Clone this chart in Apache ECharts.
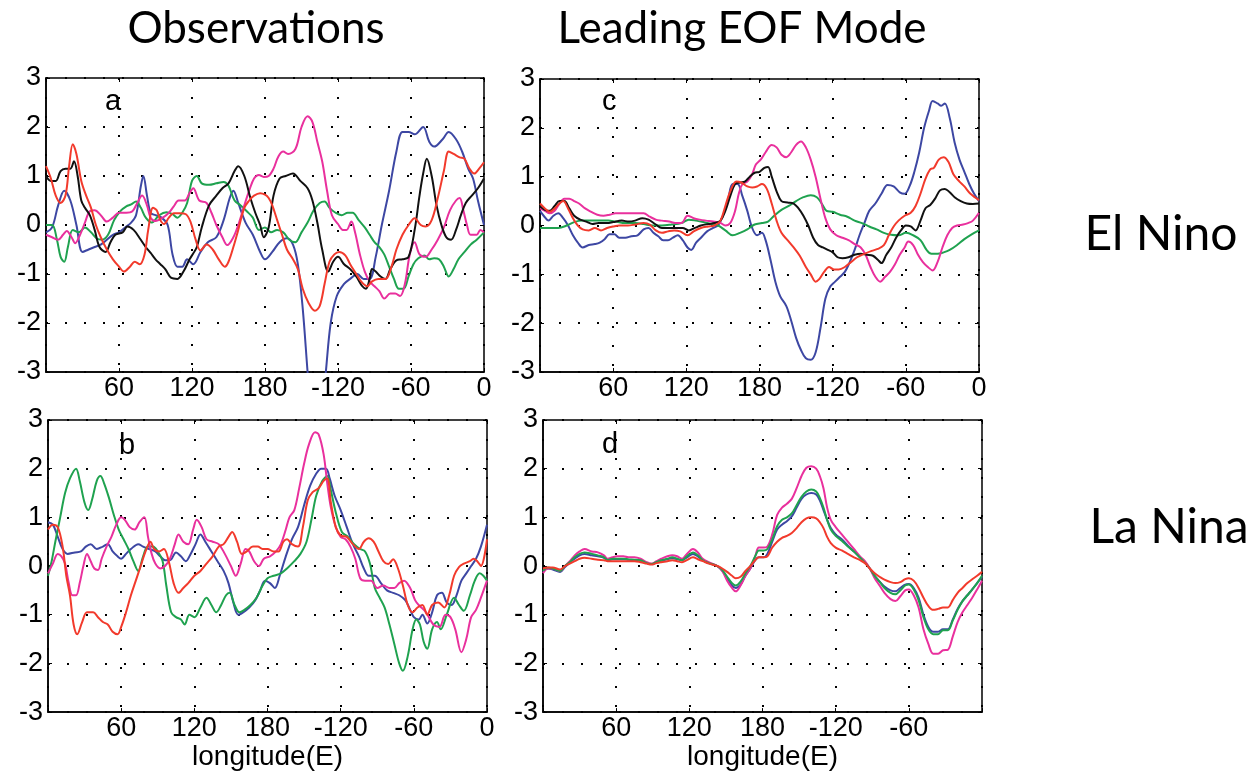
<!DOCTYPE html>
<html>
<head>
<meta charset="utf-8">
<script src="https://cdn.jsdelivr.net/npm/echarts/dist/echarts.min.js"></script>
<style>
html,body{margin:0;padding:0;background:#fff;}
#chart{width:1258px;height:772px;}
</style>
</head>
<body>
<div id="chart"></div>
<script>
// ---- tick values / labels ----
const lonTicks = [0, 60, 120, 180, 240, 300, 360];
const lonLabels = ['', '60', '120', '180', '-120', '-60', '0'];
const lonLabelsD = ['', '60', '120', '180', '-120', '-60', ''];
const valTicks = [-3, -2, -1, 0, 1, 2, 3];

// ---- panel a: Observations, El Nino ([longitude, value]) ----
const obsElBlue = [[0,-0.15],[5,-0.05],[10,0.4],[15,0.7],[20,0.5],[25,0.0],[30,-0.55],[35,-0.5],[40,-0.45],[45,-0.4],[50,-0.3],[55,-0.2],[60,-0.15],[65,-0.05],[70,0.05],[74,0.2],[78,0.8],[80,1.0],[83,0.6],[86,0.25],[90,0.2],[95,0.15],[100,0.0],[104,-0.6],[108,-0.85],[112,-0.85],[116,-0.7],[121,-0.8],[127,-0.55],[133,-0.35],[140,-0.25],[146,0.1],[151,0.55],[154,0.7],[158,0.45],[164,0.05],[170,-0.2],[176,-0.55],[180,-0.7],[186,-0.55],[192,-0.35],[198,-0.27],[203,-0.4],[207,-0.8],[211,-1.7],[215,-3.0],[218,-3.9],[222,-4.3],[226,-4.0],[230,-3.0],[234,-2.0],[239,-1.45],[245,-1.2],[250,-1.1],[256,-1.0],[261,-1.1],[266,-1.1],[271,-0.65],[276,0.0],[282,0.7],[288,1.5],[293,1.9],[298,1.9],[303,1.85],[310,2.0],[315,1.7],[319,1.6],[326,1.75],[331,1.9],[337,1.75],[342,1.5],[347,1.15],[351,0.95],[355,0.5],[360,0.0]];
const obsElRed = [[0,1.2],[4,0.95],[8,0.6],[12,0.45],[16,0.6],[19,1.2],[22,1.65],[25,1.45],[29,0.9],[33,0.6],[37,0.35],[41,0.0],[45,-0.25],[50,-0.5],[55,-0.7],[60,-0.85],[64,-0.95],[69,-0.85],[73,-0.75],[77,-0.8],[81,-0.6],[84,-0.1],[88,0.35],[91,0.3],[94,0.1],[97,0.02],[101,0.15],[105,0.24],[110,0.24],[115,0.22],[119,0.05],[123,-0.3],[127,-0.52],[132,-0.4],[137,-0.5],[142,-0.7],[147,-0.85],[150,-0.75],[154,-0.45],[158,-0.1],[163,0.35],[167,0.5],[171,0.6],[176,0.65],[180,0.62],[183,0.55],[186,0.4],[190,0.1],[194,-0.2],[198,-0.5],[203,-0.7],[207,-0.9],[211,-1.3],[216,-1.6],[221,-1.75],[225,-1.65],[229,-1.2],[233,-0.75],[237,-0.6],[241,-0.55],[246,-0.62],[250,-0.8],[255,-1.0],[259,-1.15],[264,-1.25],[268,-1.15],[273,-1.1],[279,-1.1],[284,-0.85],[288,-0.5],[293,-0.2],[298,0.0],[303,0.14],[308,0.0],[312,-0.03],[317,0.1],[322,0.55],[327,1.1],[331,1.5],[335,1.45],[340,1.38],[344,1.35],[348,1.15],[352,1.05],[356,1.15],[360,1.28]];
const obsElBlack = [[0,1.0],[4,0.9],[8,0.9],[12,1.1],[16,1.15],[20,1.15],[23,1.3],[26,1.0],[29,0.5],[32,0.35],[36,0.2],[40,-0.1],[44,-0.45],[49,-0.55],[53,-0.35],[57,-0.2],[63,-0.15],[67,-0.03],[72,-0.1],[77,-0.27],[82,-0.45],[86,-0.57],[90,-0.7],[94,-0.8],[98,-0.9],[103,-1.08],[108,-1.1],[113,-0.95],[118,-0.7],[121,-0.58],[124,-0.45],[128,-0.05],[134,0.4],[140,0.6],[145,0.75],[150,0.85],[155,1.1],[158,1.2],[163,1.0],[168,0.55],[172,0.25],[176,0.0],[179,-0.25],[183,-0.05],[187,0.6],[192,0.95],[197,1.0],[203,1.05],[209,0.9],[215,0.75],[219,0.5],[223,0.05],[227,-0.5],[232,-0.95],[236,-0.75],[240,-0.65],[245,-0.8],[250,-0.9],[255,-1.05],[260,-1.25],[263,-1.3],[266,-1.1],[268,-0.9],[271,-0.95],[275,-1.05],[279,-1.1],[283,-0.9],[288,-0.72],[293,-0.7],[298,-0.65],[303,-0.1],[307,0.6],[310,1.05],[313,1.35],[317,1.0],[321,0.4],[325,0.0],[329,-0.25],[333,-0.3],[337,-0.1],[341,0.2],[345,0.45],[350,0.6],[355,0.75],[360,0.95]];
const obsElGreen = [[0,0.0],[5,0.0],[9,-0.3],[12,-0.65],[15,-0.75],[18,-0.45],[22,-0.1],[27,-0.15],[32,-0.05],[37,-0.15],[42,-0.28],[46,-0.3],[51,-0.2],[56,0.1],[61,0.28],[66,0.38],[70,0.42],[74,0.48],[78,0.35],[82,0.15],[87,0.05],[93,0.2],[99,0.26],[104,0.22],[108,0.15],[112,0.25],[116,0.45],[120,0.9],[124,1.0],[128,0.85],[134,0.82],[140,0.85],[146,0.88],[150,0.8],[155,0.5],[160,0.4],[165,0.28],[170,0.15],[175,-0.1],[180,-0.05],[185,-0.15],[190,-0.1],[195,-0.15],[200,-0.3],[205,-0.35],[210,-0.15],[215,0.05],[220,0.3],[225,0.45],[229,0.48],[233,0.35],[238,0.25],[243,0.2],[248,0.25],[252,0.25],[257,0.1],[262,-0.05],[266,-0.2],[270,-0.35],[274,-0.45],[278,-0.6],[282,-0.85],[286,-1.1],[290,-1.3],[294,-1.3],[298,-1.05],[302,-0.8],[306,-0.68],[311,-0.62],[315,-0.7],[319,-0.68],[323,-0.7],[327,-0.85],[331,-1.05],[335,-0.9],[339,-0.7],[344,-0.55],[349,-0.4],[354,-0.3],[360,-0.15]];
const obsElMagenta = [[0,-0.2],[5,-0.25],[10,-0.3],[14,-0.2],[17,-0.12],[21,-0.25],[24,-0.37],[28,-0.2],[32,0.05],[36,0.28],[40,0.3],[45,0.2],[50,0.07],[55,0.15],[60,0.25],[66,0.25],[71,0.28],[75,0.45],[79,0.6],[83,0.4],[86,0.15],[90,0.08],[96,0.15],[101,0.25],[105,0.38],[109,0.5],[114,0.5],[118,0.65],[121,0.75],[126,0.5],[132,0.45],[136,0.25],[140,0.0],[145,-0.25],[149,-0.41],[154,-0.25],[158,0.0],[163,0.4],[167,0.7],[171,0.95],[175,1.02],[179,0.98],[183,1.0],[187,1.15],[191,1.4],[195,1.5],[199,1.45],[205,1.55],[210,2.0],[215,2.22],[219,2.1],[223,1.7],[227,1.3],[231,0.7],[235,0.2],[240,0.02],[244,-0.1],[247,-0.1],[251,0.07],[254,-0.15],[258,-0.6],[262,-0.95],[266,-1.15],[270,-1.25],[274,-1.35],[278,-1.5],[283,-1.4],[287,-1.4],[291,-1.45],[295,-1.2],[299,-0.6],[303,-0.35],[307,-0.6],[312,-0.65],[317,-0.5],[322,-0.3],[327,-0.05],[332,0.3],[337,0.5],[340,0.55],[343,0.3],[346,0.0],[349,-0.2],[354,-0.2],[357,-0.1],[360,-0.15]];

// ---- panel b: Observations, La Nina ----
const obsLaBlue = [[0,0.9],[4,0.85],[8,0.6],[12,0.35],[16,0.25],[22,0.28],[27,0.3],[31,0.4],[35,0.45],[40,0.35],[45,0.4],[49,0.45],[53,0.3],[57,0.2],[60,0.15],[64,0.25],[68,0.35],[74,0.45],[78,0.4],[83,0.35],[88,0.3],[92,0.2],[96,0.12],[100,0.12],[105,0.28],[109,0.2],[113,0.1],[117,0.25],[121,0.45],[125,0.65],[129,0.5],[134,0.3],[139,0.1],[144,-0.1],[148,-0.35],[152,-0.75],[156,-1.0],[160,-0.95],[165,-0.85],[170,-0.7],[174,-0.5],[178,-0.3],[182,-0.35],[186,-0.45],[190,-0.2],[195,0.2],[200,0.55],[205,0.8],[210,1.25],[215,1.65],[220,1.9],[224,2.0],[228,2.0],[231,1.8],[235,1.45],[240,1.15],[245,0.8],[250,0.45],[255,0.2],[259,-0.05],[263,-0.2],[268,-0.2],[273,-0.35],[278,-0.5],[283,-0.55],[288,-0.6],[293,-0.7],[297,-0.9],[300,-1.05],[304,-1.1],[307,-1.0],[311,-1.18],[315,-0.95],[319,-0.6],[323,-0.55],[327,-0.75],[331,-0.8],[335,-0.6],[339,-0.3],[343,-0.15],[347,0.0],[351,0.15],[355,0.4],[360,0.85]];
const obsLaRed = [[0,0.75],[4,0.85],[8,0.8],[12,0.4],[15,-0.2],[18,-0.6],[21,-1.2],[24,-1.4],[28,-1.15],[32,-0.95],[37,-0.95],[41,-1.05],[45,-1.15],[49,-1.2],[53,-1.35],[57,-1.4],[60,-1.25],[64,-0.95],[68,-0.6],[72,-0.3],[76,0.0],[80,0.3],[84,0.5],[87,0.35],[91,0.3],[95,0.35],[99,0.1],[103,-0.35],[107,-0.55],[111,-0.45],[115,-0.35],[120,-0.2],[125,-0.1],[130,0.05],[135,0.2],[140,0.4],[144,0.45],[148,0.6],[151,0.7],[155,0.5],[159,0.25],[163,0.3],[168,0.4],[172,0.4],[176,0.35],[180,0.35],[185,0.3],[189,0.3],[193,0.5],[196,0.55],[200,0.45],[205,0.4],[209,0.8],[213,1.35],[217,1.52],[222,1.6],[226,1.75],[229,1.8],[232,1.3],[236,0.8],[240,0.63],[245,0.6],[250,0.45],[255,0.35],[259,0.5],[263,0.57],[267,0.5],[271,0.3],[275,0.1],[279,0.04],[283,0.14],[287,-0.05],[291,-0.4],[295,-0.8],[299,-0.95],[303,-0.85],[307,-0.8],[311,-1.0],[315,-0.8],[320,-0.75],[325,-0.85],[329,-0.6],[333,-0.2],[337,-0.02],[341,0.05],[346,0.1],[349,0.15],[352,0.1],[355,0.0],[360,0.55]];
const obsLaGreen = [[0,-0.2],[3,0.1],[6,0.5],[10,1.0],[14,1.5],[18,1.8],[23,2.0],[26,1.75],[30,1.3],[33,1.15],[36,1.35],[40,1.75],[43,1.85],[46,1.7],[50,1.4],[54,1.05],[58,0.75],[62,0.55],[66,0.35],[70,0.1],[74,-0.1],[78,0.2],[82,0.4],[86,0.4],[90,0.3],[94,0.1],[97,-0.4],[101,-0.95],[105,-1.05],[109,-1.1],[112,-1.2],[116,-1.0],[120,-1.05],[125,-0.85],[130,-0.65],[134,-0.8],[138,-0.95],[142,-0.8],[146,-0.6],[149,-0.55],[153,-0.8],[157,-0.95],[161,-0.9],[166,-0.8],[171,-0.65],[176,-0.4],[180,-0.25],[185,-0.2],[191,-0.15],[196,-0.05],[202,0.1],[207,0.25],[212,0.5],[216,0.95],[220,1.45],[225,1.75],[229,1.85],[232,1.55],[236,1.1],[241,0.7],[246,0.6],[251,0.45],[256,0.35],[260,0.3],[264,0.05],[268,-0.45],[272,-0.65],[276,-0.85],[280,-1.2],[284,-1.6],[288,-2.0],[291,-2.15],[295,-1.85],[299,-1.3],[302,-1.1],[305,-1.2],[308,-1.55],[311,-1.7],[315,-1.3],[319,-1.15],[322,-1.3],[327,-1.0],[333,-0.65],[337,-0.8],[341,-0.92],[346,-0.6],[350,-0.3],[354,-0.15],[357,-0.2],[360,-0.3]];
const obsLaMagenta = [[0,-0.15],[4,0.05],[8,0.25],[11,0.2],[14,0.05],[17,-0.35],[20,-0.6],[23,-0.6],[26,-0.35],[29,0.0],[32,0.25],[35,0.1],[38,-0.05],[41,-0.08],[44,0.15],[48,0.4],[52,0.6],[56,0.85],[60,1.0],[63,0.95],[67,0.8],[71,0.75],[75,0.9],[79,1.0],[82,0.6],[85,0.25],[88,0.05],[92,-0.05],[96,0.0],[100,0.15],[104,0.45],[107,0.65],[111,0.5],[115,0.45],[119,0.75],[122,0.95],[126,0.8],[130,0.55],[135,0.5],[140,0.45],[145,0.25],[150,0.0],[154,-0.2],[158,0.05],[162,0.35],[165,0.3],[169,0.1],[173,0.0],[177,0.15],[182,0.2],[187,0.3],[191,0.45],[195,0.75],[198,1.0],[202,1.15],[206,1.6],[210,2.1],[214,2.5],[219,2.75],[222,2.7],[226,2.3],[229,1.7],[232,1.2],[236,0.8],[240,0.6],[244,0.55],[248,0.4],[252,0.15],[256,-0.25],[260,-0.3],[265,-0.3],[270,-0.45],[275,-0.4],[280,-0.45],[284,-0.45],[288,-0.35],[292,-0.3],[297,-0.45],[301,-0.7],[304,-0.8],[310,-0.95],[316,-1.2],[321,-1.25],[326,-1.0],[330,-1.05],[334,-1.3],[339,-1.77],[343,-1.5],[347,-1.05],[351,-0.9],[355,-0.65],[360,-0.3]];

// ---- panel c: Leading EOF mode, El Nino ----
const eofElBlue = [[0,0.3],[3,0.2],[7,0.1],[11,0.2],[15,0.25],[19,0.15],[23,0.0],[27,-0.2],[31,-0.35],[35,-0.45],[40,-0.4],[45,-0.38],[49,-0.35],[53,-0.28],[57,-0.18],[61,-0.18],[65,-0.25],[70,-0.25],[75,-0.22],[80,-0.2],[85,-0.08],[89,-0.05],[93,-0.15],[97,-0.22],[101,-0.3],[105,-0.3],[109,-0.25],[113,-0.2],[117,-0.3],[121,-0.45],[124,-0.5],[128,-0.35],[132,-0.25],[137,-0.12],[142,-0.05],[146,0.0],[150,0.2],[154,0.5],[158,0.85],[162,0.85],[166,0.6],[170,0.3],[174,-0.05],[178,-0.2],[182,-0.15],[185,-0.3],[189,-0.7],[193,-1.15],[197,-1.45],[202,-1.65],[206,-1.95],[210,-2.3],[214,-2.55],[218,-2.72],[222,-2.75],[226,-2.6],[230,-2.1],[234,-1.5],[238,-1.25],[242,-1.15],[246,-1.05],[250,-0.95],[254,-0.75],[258,-0.5],[262,-0.2],[266,0.05],[270,0.3],[275,0.45],[280,0.65],[285,0.83],[290,0.8],[295,0.68],[299,0.65],[303,0.8],[307,1.1],[311,1.5],[315,2.0],[319,2.35],[322,2.55],[326,2.5],[329,2.45],[332,2.5],[336,2.2],[340,1.7],[344,1.35],[348,1.1],[352,0.85],[356,0.65],[360,0.5]];
const eofElRed = [[0,0.45],[4,0.35],[8,0.28],[12,0.35],[16,0.45],[19,0.5],[23,0.35],[27,0.15],[31,0.0],[35,-0.08],[40,-0.1],[45,-0.05],[50,-0.1],[55,-0.05],[60,-0.02],[65,0.0],[72,0.0],[78,0.02],[85,0.05],[90,0.02],[95,-0.1],[100,-0.15],[105,-0.12],[110,-0.1],[115,-0.12],[121,-0.2],[126,-0.12],[132,-0.05],[138,-0.02],[143,0.0],[148,0.1],[152,0.4],[156,0.7],[161,0.9],[165,0.88],[170,0.8],[174,0.78],[178,0.8],[182,0.85],[186,0.75],[190,0.45],[194,0.1],[198,-0.15],[203,-0.3],[208,-0.45],[213,-0.62],[218,-0.85],[222,-1.0],[226,-1.15],[229,-1.1],[233,-0.95],[237,-0.85],[241,-0.9],[245,-0.9],[250,-0.85],[255,-0.75],[260,-0.65],[266,-0.58],[272,-0.52],[277,-0.48],[282,-0.4],[286,-0.2],[290,-0.02],[294,0.1],[299,0.2],[304,0.26],[308,0.4],[312,0.65],[316,0.95],[320,1.15],[323,1.18],[327,1.35],[331,1.4],[335,1.3],[339,1.05],[344,0.9],[348,0.8],[353,0.65],[360,0.52]];
const eofElBlack = [[0,0.4],[4,0.32],[8,0.3],[12,0.4],[16,0.5],[20,0.5],[24,0.35],[28,0.2],[33,0.12],[38,0.08],[43,0.03],[48,0.05],[55,0.05],[60,0.07],[67,0.1],[73,0.08],[78,0.1],[84,0.15],[89,0.12],[95,0.02],[100,-0.05],[106,-0.05],[112,-0.05],[117,-0.05],[122,-0.1],[127,-0.05],[132,0.0],[138,0.03],[143,0.05],[148,0.1],[152,0.3],[156,0.6],[160,0.85],[164,0.88],[168,0.9],[172,1.0],[176,1.08],[180,1.1],[184,1.18],[187,1.2],[190,1.0],[194,0.7],[198,0.5],[203,0.47],[208,0.45],[212,0.35],[216,0.2],[220,0.0],[224,-0.25],[228,-0.4],[232,-0.45],[236,-0.5],[240,-0.55],[244,-0.65],[248,-0.67],[253,-0.65],[258,-0.6],[263,-0.58],[268,-0.6],[273,-0.62],[277,-0.7],[280,-0.77],[284,-0.6],[288,-0.45],[292,-0.25],[296,-0.1],[300,0.0],[304,-0.02],[308,-0.1],[312,0.1],[316,0.35],[320,0.42],[324,0.55],[328,0.72],[332,0.75],[336,0.68],[340,0.58],[345,0.5],[350,0.45],[355,0.44],[360,0.45]];
const eofElGreen = [[0,-0.05],[8,-0.05],[15,-0.05],[22,0.0],[28,0.07],[35,0.1],[42,0.1],[50,0.1],[56,0.1],[62,0.08],[70,0.05],[78,0.05],[85,0.03],[92,0.0],[100,0.0],[108,0.02],[116,0.05],[122,0.12],[128,0.1],[134,0.07],[140,0.03],[146,0.0],[152,-0.1],[158,-0.2],[164,-0.15],[170,-0.08],[176,0.02],[182,0.05],[187,0.08],[192,0.2],[198,0.32],[204,0.4],[210,0.5],[216,0.58],[222,0.62],[227,0.58],[231,0.45],[235,0.3],[240,0.28],[246,0.22],[252,0.18],[258,0.1],[264,0.05],[270,-0.02],[276,-0.08],[282,-0.15],[288,-0.19],[294,-0.2],[300,-0.15],[306,-0.2],[312,-0.3],[317,-0.5],[321,-0.58],[326,-0.58],[331,-0.55],[336,-0.5],[342,-0.4],[348,-0.28],[354,-0.18],[360,-0.1]];
const eofElMagenta = [[0,0.35],[4,0.3],[8,0.25],[12,0.3],[16,0.45],[20,0.55],[24,0.55],[28,0.5],[32,0.45],[37,0.35],[42,0.28],[47,0.22],[52,0.2],[57,0.22],[62,0.25],[68,0.25],[74,0.25],[80,0.25],[85,0.25],[90,0.18],[95,0.12],[100,0.1],[106,0.08],[111,0.05],[116,0.05],[121,0.2],[126,0.15],[131,0.12],[136,0.1],[142,0.08],[148,0.05],[152,0.0],[156,0.05],[160,0.3],[163,0.65],[166,0.85],[170,0.9],[174,1.05],[177,1.25],[181,1.35],[185,1.5],[190,1.65],[194,1.6],[198,1.45],[202,1.4],[206,1.5],[210,1.65],[214,1.72],[218,1.6],[222,1.35],[226,1.0],[230,0.55],[234,0.15],[238,-0.08],[243,-0.2],[248,-0.25],[253,-0.3],[258,-0.38],[263,-0.45],[267,-0.6],[271,-0.85],[275,-1.05],[279,-1.15],[283,-1.05],[287,-0.95],[291,-0.8],[295,-0.6],[299,-0.45],[302,-0.33],[306,-0.4],[310,-0.6],[314,-0.75],[318,-0.85],[322,-0.92],[326,-0.75],[330,-0.45],[334,-0.2],[338,-0.05],[342,0.0],[347,0.02],[351,0.05],[355,0.1],[360,0.26]];

// ---- panel d: Leading EOF mode, La Nina ----
const eofLaBlue = [[0,-0.12],[4,-0.05],[8,-0.07],[14,-0.12],[18,-0.02],[22,0.07],[26,0.15],[30,0.22],[34,0.25],[40,0.22],[45,0.2],[50,0.17],[53,0.12],[57,0.14],[61,0.14],[66,0.14],[70,0.13],[75,0.12],[80,0.11],[85,0.06],[89,0.04],[93,0.08],[97,0.11],[102,0.14],[106,0.16],[110,0.14],[114,0.12],[118,0.18],[123,0.25],[127,0.2],[131,0.12],[136,0.06],[143,0.0],[147,-0.1],[151,-0.25],[155,-0.4],[158,-0.45],[162,-0.38],[166,-0.2],[170,-0.05],[174,0.12],[177,0.18],[181,0.18],[184,0.25],[188,0.5],[192,0.75],[196,0.85],[200,0.92],[204,1.02],[208,1.2],[212,1.38],[216,1.47],[220,1.5],[224,1.47],[227,1.35],[230,1.15],[233,0.95],[236,0.78],[240,0.65],[245,0.55],[250,0.42],[255,0.3],[260,0.18],[264,0.08],[268,-0.05],[272,-0.2],[276,-0.32],[280,-0.42],[285,-0.5],[289,-0.52],[293,-0.45],[297,-0.38],[300,-0.37],[304,-0.45],[308,-0.65],[312,-1.0],[316,-1.25],[320,-1.35],[324,-1.35],[328,-1.3],[332,-1.3],[336,-1.1],[340,-0.88],[344,-0.72],[348,-0.6],[352,-0.48],[356,-0.35],[360,-0.22]];
const eofLaGreen = [[0,-0.1],[4,-0.03],[8,-0.05],[14,-0.1],[18,0.0],[22,0.08],[26,0.18],[30,0.25],[34,0.28],[40,0.25],[45,0.22],[50,0.18],[53,0.12],[57,0.15],[61,0.15],[66,0.15],[70,0.14],[75,0.13],[80,0.12],[85,0.06],[89,0.04],[93,0.08],[97,0.12],[102,0.15],[106,0.18],[110,0.15],[114,0.12],[118,0.2],[123,0.28],[127,0.22],[131,0.12],[136,0.06],[143,0.0],[147,-0.08],[151,-0.22],[155,-0.35],[158,-0.4],[162,-0.32],[166,-0.15],[170,0.0],[174,0.2],[177,0.32],[181,0.32],[184,0.35],[188,0.55],[192,0.82],[196,0.95],[200,1.0],[204,1.08],[208,1.25],[212,1.42],[216,1.53],[220,1.57],[224,1.53],[227,1.4],[230,1.2],[233,0.95],[236,0.75],[240,0.62],[245,0.52],[250,0.4],[255,0.3],[260,0.17],[264,0.07],[268,-0.05],[272,-0.2],[276,-0.32],[280,-0.45],[285,-0.55],[289,-0.58],[293,-0.5],[297,-0.4],[300,-0.38],[304,-0.48],[308,-0.7],[312,-1.05],[316,-1.3],[320,-1.4],[324,-1.4],[328,-1.32],[332,-1.32],[336,-1.12],[340,-0.9],[344,-0.72],[348,-0.6],[352,-0.48],[356,-0.35],[360,-0.2]];
const eofLaMagenta = [[0,-0.15],[4,-0.05],[8,-0.05],[14,-0.1],[18,0.0],[22,0.1],[26,0.22],[30,0.3],[34,0.35],[40,0.3],[45,0.28],[50,0.22],[53,0.15],[57,0.18],[61,0.2],[66,0.2],[70,0.18],[75,0.18],[80,0.15],[85,0.08],[89,0.05],[93,0.1],[97,0.15],[102,0.2],[106,0.22],[110,0.2],[114,0.15],[118,0.25],[123,0.35],[127,0.28],[131,0.15],[136,0.08],[143,0.0],[147,-0.1],[151,-0.3],[155,-0.45],[158,-0.52],[162,-0.4],[166,-0.2],[170,-0.05],[174,0.2],[177,0.38],[181,0.38],[184,0.4],[188,0.65],[192,1.05],[196,1.2],[200,1.28],[204,1.38],[208,1.6],[212,1.85],[216,2.02],[220,2.05],[224,2.0],[227,1.85],[230,1.6],[233,1.2],[236,0.95],[240,0.8],[245,0.65],[250,0.5],[255,0.35],[260,0.2],[264,0.1],[268,-0.05],[272,-0.25],[276,-0.4],[280,-0.55],[285,-0.68],[289,-0.72],[293,-0.62],[297,-0.5],[300,-0.48],[304,-0.6],[308,-0.85],[312,-1.3],[316,-1.6],[320,-1.8],[324,-1.8],[328,-1.73],[332,-1.72],[336,-1.45],[340,-1.15],[344,-0.95],[348,-0.8],[352,-0.65],[356,-0.48],[360,-0.3]];
const eofLaRed = [[0,-0.05],[4,-0.03],[8,-0.03],[14,-0.07],[18,0.0],[22,0.05],[26,0.1],[30,0.15],[34,0.17],[40,0.15],[45,0.13],[50,0.12],[53,0.1],[57,0.1],[61,0.1],[66,0.1],[70,0.1],[75,0.1],[80,0.08],[85,0.05],[89,0.03],[93,0.06],[97,0.08],[102,0.1],[106,0.12],[110,0.1],[114,0.08],[118,0.12],[123,0.18],[127,0.14],[131,0.1],[136,0.05],[143,0.0],[147,-0.05],[151,-0.12],[155,-0.2],[158,-0.25],[162,-0.22],[166,-0.1],[170,0.0],[174,0.12],[177,0.18],[181,0.18],[184,0.2],[188,0.38],[192,0.5],[196,0.58],[200,0.62],[204,0.68],[208,0.78],[212,0.9],[216,0.98],[220,1.0],[224,0.98],[227,0.9],[230,0.78],[233,0.6],[236,0.47],[240,0.38],[245,0.32],[250,0.25],[255,0.18],[260,0.12],[264,0.06],[268,-0.05],[272,-0.15],[276,-0.22],[280,-0.28],[285,-0.33],[289,-0.35],[293,-0.33],[297,-0.27],[300,-0.25],[304,-0.3],[308,-0.45],[312,-0.65],[316,-0.82],[320,-0.9],[324,-0.88],[328,-0.85],[332,-0.85],[336,-0.7],[340,-0.55],[344,-0.45],[348,-0.35],[352,-0.27],[356,-0.2],[360,-0.12]];

// ---- texts ----
const columnTitles = ['Observations', 'Leading EOF Mode'];
const rowTitles = ['El Nino', 'La Nina'];
const panelLetters = ['a', 'b', 'c', 'd'];
const xAxisName = 'longitude(E)';

// ---- style ----
const COL = { blue: '#3d47a3', red: '#f23a2c', black: '#111111', green: '#1fa24f', magenta: '#e9309d' };
const TICK_FONT = 'Liberation Sans';

const panels = [
  { grid: { left: 46, top: 78, width: 438, height: 294 }, labels: lonLabels, name: '',
    series: [[obsElBlue, COL.blue], [obsElGreen, COL.green], [obsElMagenta, COL.magenta], [obsElBlack, COL.black], [obsElRed, COL.red]] },
  { grid: { left: 48, top: 420, width: 439, height: 293 }, labels: lonLabels, name: xAxisName,
    series: [[obsLaBlue, COL.blue], [obsLaGreen, COL.green], [obsLaMagenta, COL.magenta], [obsLaRed, COL.red]] },
  { grid: { left: 540, top: 79, width: 439, height: 293 }, labels: lonLabels, name: '',
    series: [[eofElBlue, COL.blue], [eofElGreen, COL.green], [eofElMagenta, COL.magenta], [eofElBlack, COL.black], [eofElRed, COL.red]] },
  { grid: { left: 543, top: 420, width: 439, height: 293 }, labels: lonLabelsD, name: xAxisName,
    series: [[eofLaBlue, COL.blue], [eofLaMagenta, COL.magenta], [eofLaGreen, COL.green], [eofLaRed, COL.red]] }
];

const dotted = { color: '#000', width: 2, type: [2, 17] };
const grids = [], xAxes = [], yAxes = [], series = [];
panels.forEach((p, i) => {
  grids.push(Object.assign({ show: true, borderColor: '#000', borderWidth: 1.5, backgroundColor: '#fff' }, p.grid));
  const labs = p.labels;
  xAxes.push({
    gridIndex: i, type: 'value', min: 0, max: 360, interval: 60, position: 'bottom',
    axisLine: { show: true, onZero: false, lineStyle: { color: '#000', width: 1.5 } },
    axisTick: { show: true, inside: true, length: 4, lineStyle: { color: '#000' } },
    splitLine: { show: true, lineStyle: dotted },
    axisLabel: { show: true, showMinLabel: true, showMaxLabel: true, margin: 3, color: '#000', fontSize: 27, fontFamily: TICK_FONT,
      formatter: v => { const k = lonTicks.indexOf(v); return k >= 0 ? labs[k] : ''; } },
    name: p.name, nameLocation: 'middle', nameGap: 27,
    nameTextStyle: { color: '#000', fontSize: 28, fontFamily: TICK_FONT }
  });
  xAxes.push({
    gridIndex: i, type: 'value', min: 0, max: 360, interval: 60, position: 'top',
    axisLine: { show: false, onZero: false }, axisLabel: { show: false }, splitLine: { show: false },
    axisTick: { show: true, inside: true, length: 4, lineStyle: { color: '#000' } }
  });
  yAxes.push({
    gridIndex: i, type: 'value', min: -3, max: 3, interval: 1, position: 'left',
    axisLine: { show: true, onZero: false, lineStyle: { color: '#000', width: 1.5 } },
    axisTick: { show: true, inside: true, length: 4, lineStyle: { color: '#000' } },
    splitLine: { show: true, lineStyle: dotted },
    axisLabel: { show: true, margin: 5, color: '#000', fontSize: 27, fontFamily: TICK_FONT }
  });
  yAxes.push({
    gridIndex: i, type: 'value', min: -3, max: 3, interval: 1, position: 'right',
    axisLine: { show: false, onZero: false }, axisLabel: { show: false }, splitLine: { show: false },
    axisTick: { show: true, inside: true, length: 4, lineStyle: { color: '#000' } }
  });
  p.series.forEach(([data, color]) => {
    series.push({
      type: 'line', xAxisIndex: 2 * i, yAxisIndex: 2 * i, data: data,
      showSymbol: false, smooth: 0.35, clip: true, silent: true,
      lineStyle: { color: color, width: 2 }, itemStyle: { color: color }
    });
  });
});

const textEl = (text, x, y, size, family, align) => ({
  type: 'text', x: x, y: y, silent: true,
  style: { text: text, fill: '#000', font: 'normal ' + size + 'px ' + family, align: align || 'center', verticalAlign: 'middle' }
});

const graphics = [
  textEl(columnTitles[0], 256, 29, 44, 'Lato'),
  textEl(columnTitles[1], 742, 29, 44, 'Lato'),
  textEl(rowTitles[0], 1161, 235, 48, 'Lato'),
  textEl(rowTitles[1], 1169, 528, 48, 'Lato'),
  textEl(panelLetters[0], 105, 102, 29, TICK_FONT, 'left'),
  textEl(panelLetters[1], 119, 446, 29, TICK_FONT, 'left'),
  textEl(panelLetters[2], 602, 102, 29, TICK_FONT, 'left'),
  textEl(panelLetters[3], 602, 445, 29, TICK_FONT, 'left')
];

const chart = echarts.init(document.getElementById('chart'), null, { renderer: 'canvas' });
chart.setOption({
  animation: false,
  backgroundColor: '#fff',
  grid: grids,
  xAxis: xAxes,
  yAxis: yAxes,
  series: series,
  graphic: graphics
});
</script>
</body>
</html>
